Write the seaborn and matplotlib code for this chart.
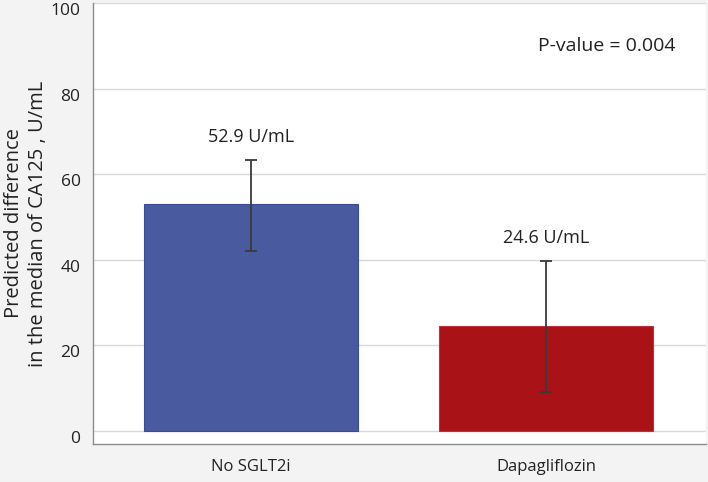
import pandas as pd
import seaborn as sns
import matplotlib.pyplot as plt
from matplotlib.transforms import ScaledTranslation

groups = ["No SGLT2i", "Dapagliflozin"]
values = [52.9, 24.6]
lower = [42.0, 9.1]
upper = [63.3, 39.7]
labels = ["52.9 U/mL", "24.6 U/mL"]
colors = ["#4a5a9f", "#a91216"]
edges = ["#3a4a94", "#c03038"]

df = pd.DataFrame({"group": groups, "value": values, "lo": lower, "hi": upper})

sns.set_style("white")
plt.rcParams["font.family"] = ["Open Sans", "DejaVu Sans"]

fig = plt.figure(figsize=(7.08, 4.82), dpi=100, facecolor="#f3f3f3")
ax = fig.add_axes([0.1314, 0.0788, 0.8654, 0.915])
ax.set_facecolor("white")

sns.barplot(data=df, x="group", y="value", hue="group", palette=colors,
            saturation=1, width=0.725, legend=False, ax=ax, zorder=2)
for patch, ec in zip(ax.patches, edges):
    patch.set_edgecolor(ec)
    patch.set_linewidth(0.8)

pos = range(len(groups))
ax.errorbar(list(pos), df["value"],
            yerr=[df["value"] - df["lo"], df["hi"] - df["value"]],
            fmt="none", ecolor="#3a3a3a", elinewidth=1.3, capsize=4.5,
            capthick=1.3, zorder=3)

for i, (hi, lab) in enumerate(zip(upper, labels)):
    ax.annotate(lab, (i, hi), xytext=(0, 10), textcoords="offset points",
                ha="center", va="bottom", fontsize=13, color="#222222")

ax.text(0.838, 0.902, "P-value = 0.004", transform=ax.transAxes, ha="center",
        va="center", fontsize=14, color="#222222")

ax.set_xlim(-0.536, 1.541)
ax.set_ylim(-3.1, 100)
ax.set_yticks([0, 20, 40, 60, 80, 100])
ax.yaxis.grid(True, color="#d9d9d9", linewidth=1, zorder=0)
ax.set_axisbelow(True)

for side in ["top", "right"]:
    ax.spines[side].set_visible(False)
for side in ["left", "bottom"]:
    ax.spines[side].set_color("#8c8c8c")
    ax.spines[side].set_linewidth(1)

ax.tick_params(axis="y", length=0, labelsize=12.5, pad=9, colors="#222222")
ax.tick_params(axis="x", length=7, width=0.8, color="#aaaaaa",
               labelsize=12, pad=4, labelcolor="#222222")

# labels sit a little below their gridlines, as in the original
shift = ScaledTranslation(0, -4.5 / 72, fig.dpi_scale_trans)
for t in ax.get_yticklabels():
    t.set_transform(t.get_transform() + shift)

ax.set_xlabel("")
ax.set_ylabel("Predicted difference\nin the median of CA125 , U/mL",
              fontsize=14.5, color="#222222", linespacing=1.3)
ax.yaxis.set_label_coords(-0.073, 0.5)

plt.savefig("out.png", dpi=100, facecolor=fig.get_facecolor())
